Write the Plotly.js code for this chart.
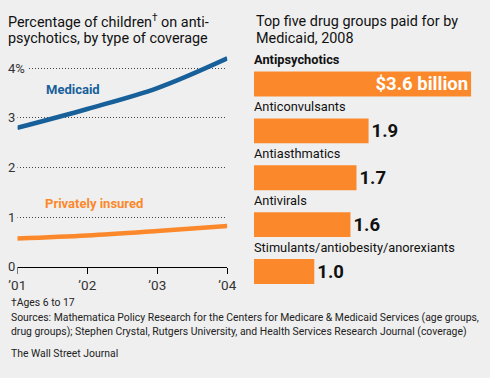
<!DOCTYPE html>
<html>
<head>
<meta charset="utf-8">
<script src="https://cdn.plot.ly/plotly-3.0.1.min.js"></script>
<style>html,body{margin:0;padding:0;background:#efefef;}#chart{width:490px;height:378px;}</style>
</head>
<body>
<div id="chart"></div>
<script>
// ---- data ----
const years = [2001, 2002, 2003, 2004];
const yearLabels = ["\u201901", "\u201902", "\u201903", "\u201904"];
const medicaid = [2.8, 3.18, 3.6, 4.2];
const privatelyInsured = [0.57, 0.63, 0.72, 0.82];
const yTickVals = [0, 1, 2, 3, 4];
const yTickText = ["0", "1", "2", "3", "4%"];
const drugGroups = ["Antipsychotics", "Anticonvulsants", "Antiasthmatics", "Antivirals", "Stimulants/antiobesity/anorexiants"];
const spending = [3.6, 1.9, 1.7, 1.6, 1.0];
const spendingLabels = ["$3.6 billion", "1.9", "1.7", "1.6", "1.0"];

// ---- style ----
const FONT = "Roboto, Liberation Sans, sans-serif";
const BG = "#efefef";
const BLUE = "#17609a";
const ORANGE = "#fb892c";
const W = 490, H = 378;
const px = v => v / W;
const py = v => 1 - v / H;

const traces = [
  {x: years, y: medicaid, type: "scatter", mode: "lines", line: {color: BLUE, width: 4.5, shape: "spline"}, xaxis: "x", yaxis: "y", hoverinfo: "skip"},
  {x: years, y: privatelyInsured, type: "scatter", mode: "lines", line: {color: ORANGE, width: 4.5, shape: "spline"}, xaxis: "x", yaxis: "y", hoverinfo: "skip"},
  {x: spending, y: drugGroups, type: "bar", orientation: "h", xaxis: "x2", yaxis: "y2",
   marker: {color: ORANGE}, width: 0.53,
   text: spendingLabels, textposition: spending.map((v, i) => i === 0 ? "inside" : "outside"),
   insidetextanchor: "end", constraintext: "none", cliponaxis: false,
   textfont: {family: FONT, size: 18.5, weight: 700},
   insidetextfont: {family: FONT, size: 18.5, weight: 700, color: "#ffffff"},
   outsidetextfont: {family: FONT, size: 18.5, weight: 700, color: "#111111"},
   hoverinfo: "skip"}
];

const annotations = [];
function note(text, x, y, opts) {
  annotations.push(Object.assign({text: text, x: x, y: y, xref: "paper", yref: "paper", xanchor: "left", yanchor: "middle", showarrow: false, font: {family: FONT, size: 10.4, color: "#222"}}, opts || {}));
}
const TF = {family: FONT, size: 14.4, color: "#111"};
// titles
note("Percentage of children<sup>\u2020</sup> on anti-", px(6), py(22), {font: TF});
note("psychotics, by type of coverage", px(6), py(38.5), {font: TF});
note("Top five drug groups paid for by", px(254), py(22), {font: TF});
note("Medicaid, 2008", px(254), py(38.5), {font: TF});
// y tick labels
yTickVals.forEach((v, i) => {
  annotations.push({text: yTickText[i], x: px(5), y: v, xref: "paper", yref: "y", xanchor: "left", yanchor: "middle",
    showarrow: false, bgcolor: BG, borderpad: 2, font: {family: FONT, size: 13, color: "#333"}});
});
// series labels
annotations.push({text: "<b>Medicaid</b>", x: 2001.38, y: 3.58, xref: "x", yref: "y", xanchor: "left", yanchor: "middle", showarrow: false, font: {family: FONT, size: 13, color: BLUE}});
annotations.push({text: "<b>Privately insured</b>", x: 2001.37, y: 1.28, xref: "x", yref: "y", xanchor: "left", yanchor: "middle", showarrow: false, font: {family: FONT, size: 13, color: ORANGE}});
// bar category labels
drugGroups.forEach((g, i) => {
  annotations.push({text: i === 0 ? "<b>" + g + "</b>" : g, x: 0, y: g, xref: "x2", yref: "y2", xanchor: "left", yanchor: "middle",
    yshift: 24, xshift: -2, showarrow: false, font: {family: FONT, size: 12.8, color: "#111"}});
});
// footer
note("\u2020Ages 6 to 17", px(9), py(302));
note("Sources: Mathematica Policy Research for the Centers for Medicare &amp; Medicaid Services (age groups,", px(9), py(317));
note("drug groups); Stephen Crystal, Rutgers University, and Health Services Research Journal (coverage)", px(9), py(331.5));
note("The Wall Street Journal", px(9), py(353));

const layout = {
  width: W, height: H,
  margin: {l: 0, r: 0, t: 0, b: 0, pad: 0},
  paper_bgcolor: BG, plot_bgcolor: BG,
  showlegend: false,
  font: {family: FONT, color: "#333"},
  xaxis: {domain: [px(17.3), px(227.3)], range: [2001, 2004], tickvals: years, ticktext: yearLabels,
    showline: true, linecolor: "#000", linewidth: 1, ticks: "outside", ticklen: 6, tickcolor: "#000", tickwidth: 1,
    showgrid: false, zeroline: false, tickfont: {family: FONT, size: 13.5, color: "#333"}, anchor: "y", fixedrange: true},
  yaxis: {domain: [py(266.7), py(52)], range: [0, (266.7 - 52) / 49.6], tickvals: [1, 2, 3, 4],
    showticklabels: false, ticks: "", showgrid: true, gridcolor: "#444", gridwidth: 1, griddash: "1px,2px",
    zeroline: false, showline: false, anchor: "x", fixedrange: true},
  xaxis2: {domain: [px(254), px(488)], range: [0, 234 / 60.3], visible: false, anchor: "y2", fixedrange: true},
  yaxis2: {domain: [py(295), py(60.5)], type: "category", range: [4.5, -0.5], visible: false, anchor: "x2", fixedrange: true},
  annotations: annotations
};

Plotly.newPlot("chart", traces, layout, {displayModeBar: false, staticPlot: true});
</script>
</body>
</html>
